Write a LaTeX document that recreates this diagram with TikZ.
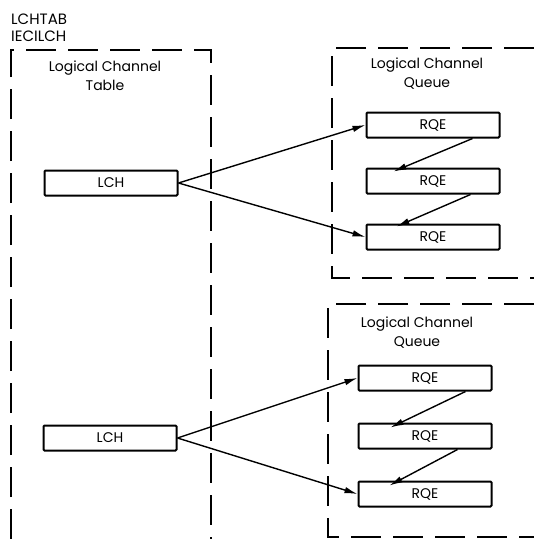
\documentclass[tikz,border=0pt]{standalone}
\usepackage{fontspec}
\setmainfont{Poppins}
\usetikzlibrary{arrows.meta,calc,positioning}

\tikzset{
  entry/.style={draw,line width=2pt,rounded corners=1pt,minimum width=133pt,minimum height=25pt,inner sep=0pt,font=\fontsize{14}{16}\selectfont},
  frame/.style={line width=2pt,dash pattern=on 30pt off 12pt},
  link/.style={->,line width=1.4pt},
  title/.style={align=center,font=\fontsize{14}{19}\selectfont}
}

\begin{document}
\begin{tikzpicture}[x=1pt,y=-1pt,>={Latex[length=13pt,width=6.5pt]}]
\useasboundingbox (0,0) rectangle (534,539);
\node[anchor=west,align=left,inner sep=0pt,font=\fontsize{15}{17}\selectfont] (tab) at (11,28) {LCHTAB\\IECILCH};
% dashed frames
\draw[frame] (11,539) -- (11,50) -- (211,50) -- (211,539);
\draw[frame] (534,48) -- (332,48) -- (332,278) -- (534,278);
\draw[frame] (534,304) -- (328,304) -- (328,537) -- (534,537);
\node[title] (lct) at (105,76) {Logical Channel\\Table};
\node[title] (lcqa) at (427,74) {Logical Channel\\Queue};
\node[title] (lcqb) at (417,333) {Logical Channel\\Queue};
% entries
\node[entry] (lcha) at (111,183) {LCH};
\node[entry] (lchb) at (110,438) {LCH};
\node[entry] (rqa1) at (433,125) {RQE};
\node[entry] (rqa2) at (433,181) {RQE};
\node[entry] (rqa3) at (433,237) {RQE};
\node[entry] (rqb1) at (425,378) {RQE};
\node[entry] (rqb2) at (425,436) {RQE};
\node[entry] (rqb3) at (425,494) {RQE};
% connectors
\draw[link] (lcha.east) -- (rqa1.west);
\draw[link] (lcha.east) -- (rqa3.west);
\draw[link] (lchb.east) -- (rqb1.west);
\draw[link] (lchb.east) -- (rqb3.west);
\draw[link] ([xshift=-28pt]rqa1.south east) -- ([xshift=28pt,yshift=-4pt]rqa2.north west);
\draw[link] ([xshift=-30pt]rqa2.south east) -- ([xshift=31pt,yshift=-3pt]rqa3.north west);
\draw[link] ([xshift=-27pt]rqb1.south east) -- ([xshift=33pt,yshift=-5pt]rqb2.north west);
\draw[link] ([xshift=-35pt]rqb2.south east) -- ([xshift=32pt,yshift=-5pt]rqb3.north west);
\end{tikzpicture}
\end{document}
